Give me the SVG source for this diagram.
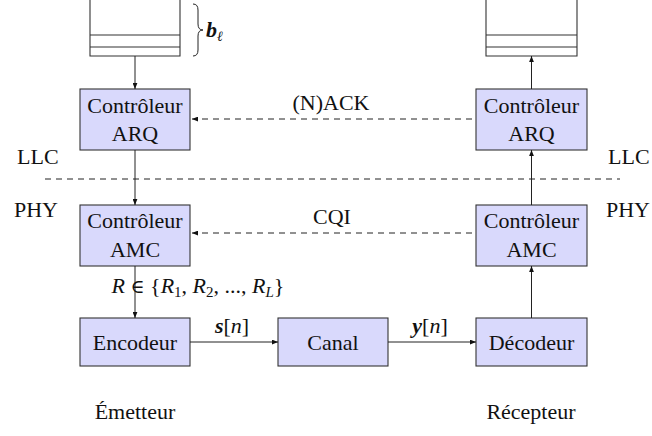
<svg xmlns="http://www.w3.org/2000/svg" width="652" height="436" viewBox="0 0 652 436">
<defs>
<style>
text{font-family:"Liberation Serif","DejaVu Serif",serif;font-size:22px;fill:#111;}
.m{text-anchor:middle;}
.box{fill:#d9d9fc;stroke:#333;stroke-width:1.1;}
.ln{fill:none;stroke:#222;stroke-width:1;}
.q{fill:none;stroke:#333;stroke-width:1.1;}
.dash{fill:none;stroke:#222;stroke-width:1;stroke-dasharray:6,5;}
.i{font-style:italic;}
.bi{font-style:italic;font-weight:bold;}
</style>
<marker id="ah" viewBox="0 0 10 8" refX="10" refY="4" markerWidth="6" markerHeight="5" orient="auto" markerUnits="userSpaceOnUse">
<path d="M0,0 L10,4 L0,8 Z" fill="#111"/>
</marker>
</defs>
<rect width="652" height="436" fill="#fff"/>

<g id="queue-tx">
<path class="q" d="M90,0 V56 H180 V0 M90,35 H180 M90,47 H180"/>
<path class="ln" d="M193,4 Q198,4 198,10 V24 Q198,30 203,30 Q198,30 198,36 V50 Q198,56 193,56"/>
<text x="206" y="37" font-size="20"><tspan class="bi">b</tspan><tspan class="i" font-size="14" dy="4">ℓ</tspan></text>
</g>
<g id="queue-rx">
<path class="q" d="M486,0 V56 H577 V0 M486,35 H577 M486,47 H577"/>
</g>

<g id="arq-tx">
<rect class="box" x="80" y="89" width="110" height="61"/>
<text class="m" x="135" y="113">Contrôleur</text>
<text class="m" x="135" y="141">ARQ</text>
</g>
<g id="arq-rx">
<rect class="box" x="476" y="89" width="111" height="61"/>
<text class="m" x="531.5" y="113">Contrôleur</text>
<text class="m" x="531.5" y="141">ARQ</text>
</g>
<g id="amc-tx">
<rect class="box" x="80" y="205" width="110" height="61"/>
<text class="m" x="135" y="228">Contrôleur</text>
<text class="m" x="135" y="257">AMC</text>
</g>
<g id="amc-rx">
<rect class="box" x="476" y="205" width="111" height="61"/>
<text class="m" x="531.5" y="228">Contrôleur</text>
<text class="m" x="531.5" y="257">AMC</text>
</g>
<g id="encodeur">
<rect class="box" x="80" y="318" width="110" height="48"/>
<text class="m" x="135" y="350">Encodeur</text>
</g>
<g id="canal">
<rect class="box" x="278" y="318" width="110" height="48"/>
<text class="m" x="333" y="350">Canal</text>
</g>
<g id="decodeur">
<rect class="box" x="476" y="318" width="111" height="48"/>
<text class="m" x="531.5" y="350">Décodeur</text>
</g>

<g id="layers">
<path class="dash" d="M45,179 H620"/>
<text x="17" y="164">LLC</text>
<text x="14" y="217">PHY</text>
<text x="608" y="164">LLC</text>
<text x="606" y="217">PHY</text>
<text class="m" x="135" y="419">Émetteur</text>
<text class="m" x="531" y="419">Récepteur</text>
</g>

<g id="connectors">
<path class="ln" d="M135,56 V89" marker-end="url(#ah)"/>
<path class="ln" d="M135,150 V205" marker-end="url(#ah)"/>
<path class="ln" d="M135,266 V318" marker-end="url(#ah)"/>
<path class="ln" d="M190,342 H278" marker-end="url(#ah)"/>
<path class="ln" d="M388,342 H476" marker-end="url(#ah)"/>
<path class="ln" d="M531.5,318 V266" marker-end="url(#ah)"/>
<path class="ln" d="M531.5,205 V150" marker-end="url(#ah)"/>
<path class="ln" d="M531.5,89 V56" marker-end="url(#ah)"/>
<path class="dash" d="M472,119 H192" marker-end="url(#ah)"/>
<path class="dash" d="M472,233 H192" marker-end="url(#ah)"/>
<text class="m" x="331" y="110">(N)ACK</text>
<text class="m" x="332" y="224">CQI</text>
<text class="m" x="198" y="293"><tspan class="i">R</tspan> <tspan font-size="19">∈</tspan> {<tspan class="i">R</tspan><tspan font-size="15" dy="4">1</tspan><tspan dy="-4">, </tspan><tspan class="i">R</tspan><tspan font-size="15" dy="4">2</tspan><tspan dy="-4">, ..., </tspan><tspan class="i">R</tspan><tspan class="i" font-size="15" dy="4">L</tspan><tspan dy="-4">}</tspan></text>
<text class="m" x="232" y="333"><tspan class="bi">s</tspan>[<tspan class="i">n</tspan>]</text>
<text class="m" x="430" y="333"><tspan class="bi">y</tspan>[<tspan class="i">n</tspan>]</text>
</g>
</svg>
